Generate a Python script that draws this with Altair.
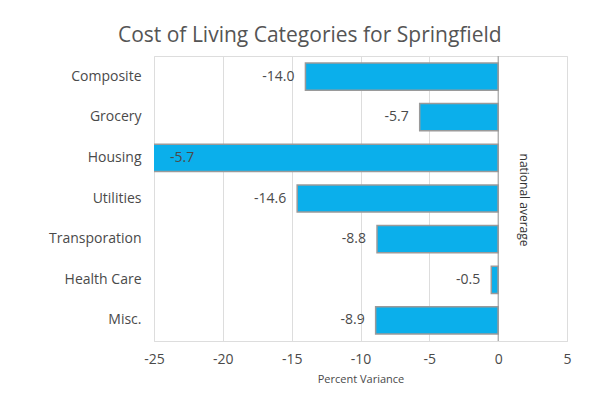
import altair as alt
import pandas as pd

categories = ["Composite", "Grocery", "Housing", "Utilities", "Transporation", "Health Care", "Misc."]
values = [-14.0, -5.7, -35.7, -14.6, -8.8, -0.5, -8.9]
labels = ["-14.0", "-5.7", "-5.7", "-14.6", "-8.8", "-0.5", "-8.9"]
x_min, x_max = -25, 5

df = pd.DataFrame({"cat": categories, "val": values, "lab": labels})
df["clipped"] = df["val"] < x_min
df["lab_x"] = df["val"].clip(lower=x_min)

FONT = "Open Sans"
TXT = "#4a4a4a"
xscale = alt.Scale(domain=[x_min, x_max], nice=False, zero=False, padding=0)

x = alt.X("val:Q", scale=xscale,
          axis=alt.Axis(values=list(range(x_min, x_max + 1, 5)), title="Percent Variance",
                        labelExpr="toString(datum.value)", labelFlush=False,
                        titleFontSize=11, titleFontWeight="normal", titleColor=TXT, titleFont=FONT,
                        labelFontSize=14, labelColor=TXT, labelPadding=11, titlePadding=7,
                        labelFont=FONT, ticks=False, domainColor="#dddddd", gridColor="#dddddd"))
y = alt.Y("cat:N", sort=categories,
          scale=alt.Scale(paddingInner=0.33, paddingOuter=0.17),
          axis=alt.Axis(title=None, labelFontSize=14, labelColor=TXT, ticks=False, labelFont=FONT,
                        domain=False, labelPadding=13, grid=False))

base = alt.Chart(df)

bars = base.mark_bar(color="#0bafeb", stroke="#9a9a9a", strokeWidth=1.5, clip=True).encode(
    x=x, x2=alt.datum(0), y=y)

lab_normal = base.transform_filter("!datum.clipped").mark_text(
    align="right", dx=-11, fontSize=14, color=TXT, font=FONT).encode(
    x=alt.X("lab_x:Q", scale=xscale), y=alt.Y("cat:N", sort=categories), text="lab:N")

lab_clip = base.transform_filter("datum.clipped").mark_text(
    align="left", dx=16, fontSize=14, color=TXT, font=FONT).encode(
    x=alt.X("lab_x:Q", scale=xscale), y=alt.Y("cat:N", sort=categories), text="lab:N")

zero = alt.Chart(pd.DataFrame({"z": [0]})).mark_rule(color="#999999", strokeWidth=1).encode(
    x=alt.X("z:Q", scale=xscale))

note = alt.Chart(pd.DataFrame({"t": ["national   average"], "xv": [1.9]})).mark_text(
    angle=90, fontSize=12, color="#333333", font=FONT, align="center", baseline="middle").encode(
    x=alt.X("xv:Q", scale=xscale), y=alt.value(144), text="t:N")

chart = alt.layer(bars, zero, lab_normal, lab_clip, note).properties(
    width=413, height=285,
    padding={"left": 40, "top": 16, "right": 5, "bottom": 5},
    title=alt.TitleParams("Cost of Living Categories for Springfield", fontSize=21,
                          fontWeight="normal", color="#555555", font=FONT, offset=10,
                          frame="bounds", anchor="middle"),
).configure_view(stroke="#dddddd")

chart.save("out.html", embed_options={"renderer": "svg", "actions": False})
